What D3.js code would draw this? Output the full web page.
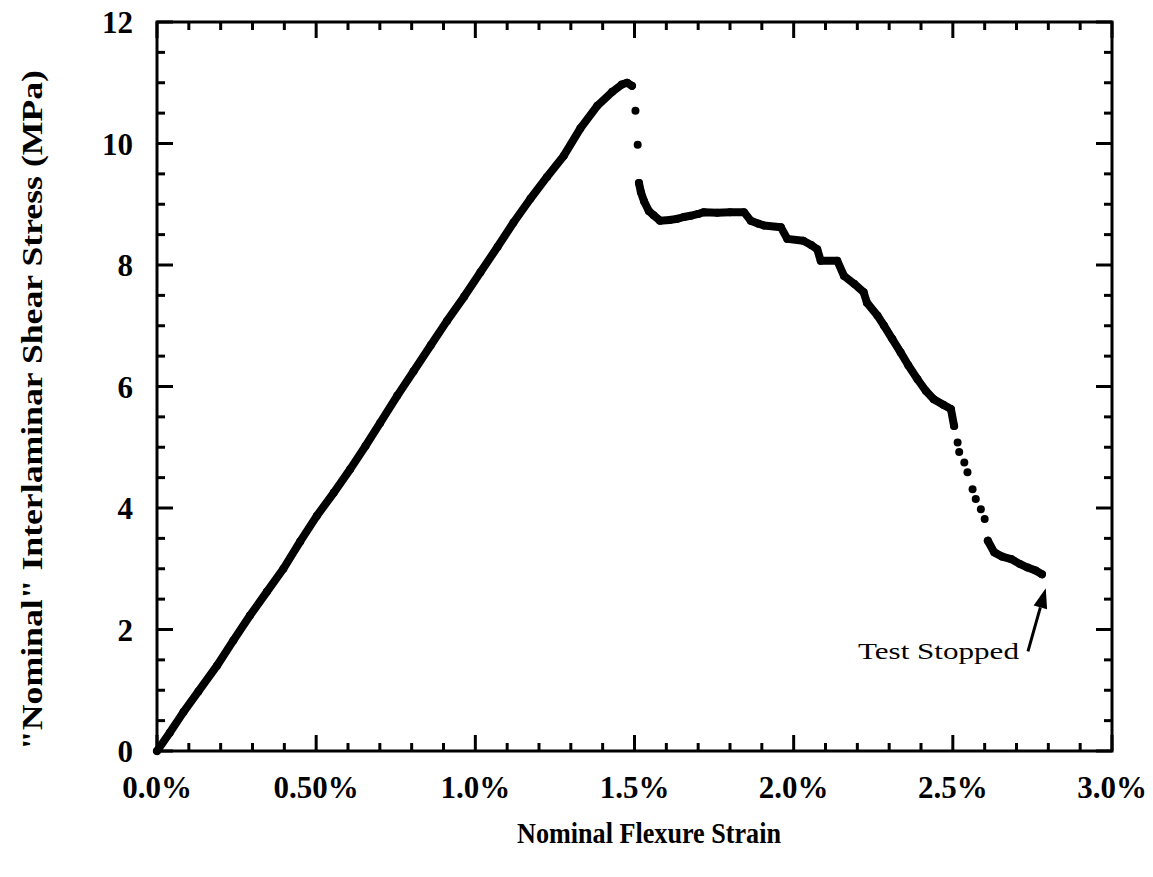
<!DOCTYPE html>
<html><head><meta charset="utf-8">
<script src="https://cdn.jsdelivr.net/npm/d3@7"></script>
<style>body{margin:0;background:#fff}svg{display:block}</style>
</head><body>
<svg id="c" width="1153" height="877"></svg>
<script>
// ---- data (strain in %, stress in MPa) ----
const risingStrain = [0,0.04,0.083,0.13,0.188,0.24,0.292,0.345,0.397,0.45,0.502,0.555,0.607,0.655,0.701,0.755,0.806,0.86,0.911,0.965,1.016,1.07,1.12,1.173,1.225,1.278,1.33,1.383,1.43,1.46,1.477,1.492];
const risingStress = [0,0.3,0.64,0.98,1.40,1.82,2.23,2.62,3.0,3.45,3.87,4.25,4.64,5.02,5.4,5.85,6.25,6.68,7.08,7.48,7.88,8.30,8.70,9.09,9.45,9.80,10.25,10.62,10.85,10.97,11.0,10.95];
const dropStrain = [1.503,1.51];
const dropStress = [10.54,9.98];
const plateauStrain = [1.514,1.52,1.53,1.545,1.56,1.58,1.61,1.634,1.655,1.676,1.70,1.718,1.76,1.80,1.844,1.865,1.89,1.907,1.96,1.98,2.03,2.055,2.074,2.085,2.137,2.158,2.19,2.22,2.23,2.263,2.284,2.31,2.336,2.36,2.389,2.415,2.44,2.47,2.494,2.504];
const plateauStress = [9.35,9.2,9.05,8.89,8.82,8.73,8.74,8.76,8.79,8.81,8.84,8.87,8.86,8.87,8.87,8.73,8.68,8.65,8.62,8.43,8.40,8.33,8.26,8.07,8.07,7.82,7.69,7.55,7.38,7.17,7.0,6.78,6.56,6.35,6.12,5.93,5.79,5.70,5.63,5.35];
const tailStrain = [2.515,2.52,2.536,2.546,2.562,2.572,2.588,2.6];
const tailStress = [5.08,4.92,4.75,4.59,4.31,4.15,3.98,3.82];
const endStrain = [2.61,2.63,2.655,2.683,2.71,2.735,2.76,2.78];
const endStress = [3.46,3.27,3.2,3.16,3.08,3.02,2.97,2.91];

const xTicks = [0,0.5,1.0,1.5,2.0,2.5,3.0];
const xTickLabels = ["0.0%","0.50%","1.0%","1.5%","2.0%","2.5%","3.0%"];
const yTicks = [0,2,4,6,8,10,12];
const xMinor = d3.range(0,3.0001,0.1);
const yMinor = d3.range(0,12.0001,0.5);

const annotationText = "Test Stopped";
const arrowFrom = [2.736,1.64];
const arrowTo = [2.792,2.68];

const xTitle = "Nominal Flexure Strain";
const yTitle = "\"Nominal\" Interlaminar Shear Stress (MPa)";

// ---- layout ----
const L=157, R=1112, T=22, B=751;
const x = d3.scaleLinear().domain([0,3]).range([L,R]);
const y = d3.scaleLinear().domain([0,12]).range([B,T]);
const svg = d3.select("#c");
const font = "'Liberation Serif','Times New Roman',serif";

const zip = (a,b)=>a.map((v,i)=>[v,b[i]]);
const line = d3.line().x(d=>x(d[0])).y(d=>y(d[1]));

// connected segments
[zip(risingStrain,risingStress), zip(plateauStrain,plateauStress), zip(endStrain,endStress)].forEach(seg=>{
  svg.append("path").attr("d",line(seg)).attr("fill","none").attr("stroke","#000")
    .attr("stroke-width",8).attr("stroke-linejoin","round").attr("stroke-linecap","round");
});
// dots
const allPts = [].concat(zip(risingStrain,risingStress),zip(dropStrain,dropStress),zip(plateauStrain,plateauStress),zip(tailStrain,tailStress),zip(endStrain,endStress));
svg.append("g").selectAll("circle").data(allPts).join("circle")
  .attr("cx",d=>x(d[0])).attr("cy",d=>y(d[1])).attr("r",4).attr("fill","#000");

// frame
svg.append("rect").attr("x",L).attr("y",T).attr("width",R-L).attr("height",B-T)
  .attr("fill","none").attr("stroke","#000").attr("stroke-width",3);

// ticks
const tk = svg.append("g").attr("stroke","#000").attr("stroke-width",3);
xMinor.forEach(v=>{
  const major = xTicks.some(t=>Math.abs(t-v)<1e-6);
  const len = major?16:8;
  tk.append("line").attr("x1",x(v)).attr("x2",x(v)).attr("y1",B).attr("y2",B-len);
  tk.append("line").attr("x1",x(v)).attr("x2",x(v)).attr("y1",T).attr("y2",T+len);
});
yMinor.forEach(v=>{
  const major = yTicks.some(t=>Math.abs(t-v)<1e-6);
  const len = major?16:8;
  tk.append("line").attr("y1",y(v)).attr("y2",y(v)).attr("x1",L).attr("x2",L+len);
  tk.append("line").attr("y1",y(v)).attr("y2",y(v)).attr("x1",R).attr("x2",R-len);
});

// tick labels
svg.append("g").selectAll("text").data(xTicks).join("text")
  .attr("x",d=>x(d)).attr("y",B+47).attr("text-anchor","middle")
  .attr("font-family",font).attr("font-weight","bold").attr("font-size",31)
  .text((d,i)=>xTickLabels[i]);
svg.append("g").selectAll("text").data(yTicks).join("text")
  .attr("x",L-24).attr("y",d=>y(d)+11).attr("text-anchor","end")
  .attr("font-family",font).attr("font-weight","bold").attr("font-size",31)
  .text(d=>d);

// titles
svg.append("text").attr("x",649).attr("y",843).attr("text-anchor","middle")
  .attr("font-family",font).attr("font-weight","bold").attr("font-size",30)
  .attr("textLength",264).attr("lengthAdjust","spacingAndGlyphs").text(xTitle);
svg.append("text").attr("transform","translate(42,410) rotate(-90)").attr("text-anchor","middle")
  .attr("font-family",font).attr("font-weight","bold").attr("font-size",30)
  .attr("textLength",680).attr("lengthAdjust","spacingAndGlyphs").text(yTitle);

// annotation
svg.append("text").attr("x",x(arrowFrom[0])-9).attr("y",y(arrowFrom[1])+8).attr("text-anchor","end")
  .attr("font-family",font).attr("font-size",23)
  .attr("textLength",161).attr("lengthAdjust","spacingAndGlyphs").text(annotationText);
const ax0=x(arrowFrom[0]), ay0=y(arrowFrom[1]), ax1=x(arrowTo[0]), ay1=y(arrowTo[1]);
const ang = Math.atan2(ay1-ay0, ax1-ax0);
const hl=20, hw=7;
const bx = ax1-hl*Math.cos(ang), by = ay1-hl*Math.sin(ang);
svg.append("line").attr("x1",ax0).attr("y1",ay0).attr("x2",bx).attr("y2",by)
  .attr("stroke","#000").attr("stroke-width",3);
svg.append("path").attr("d",`M${ax1},${ay1}L${bx+hw*Math.sin(ang)},${by-hw*Math.cos(ang)}L${bx-hw*Math.sin(ang)},${by+hw*Math.cos(ang)}Z`)
  .attr("fill","#000");
</script>
</body></html>
